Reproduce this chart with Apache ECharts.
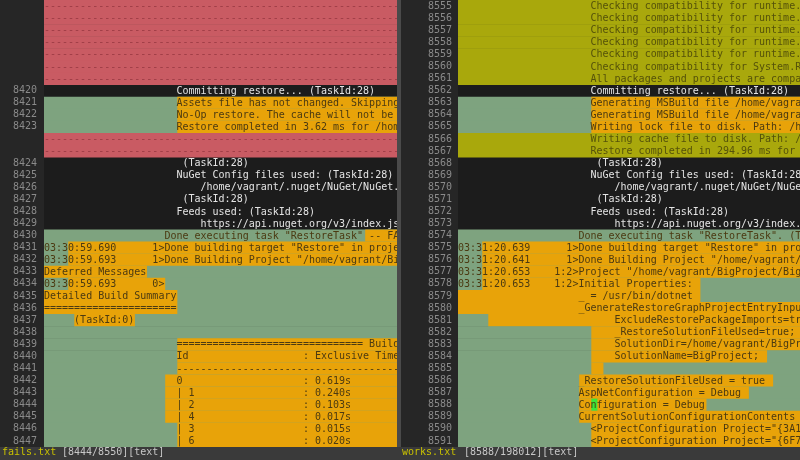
<!DOCTYPE html>
<html>
<head>
<meta charset="utf-8">
<script src="https://cdn.jsdelivr.net/npm/echarts@6/dist/echarts.min.js"></script>
<style>
  html, body { margin: 0; padding: 0; background: #1c1c1c; }
  #chart { width: 800px; height: 460px; }
</style>
</head>
<body>
<div id="chart"></div>
<script>
function sp(n, s) { return " ".repeat(n) + (s || ""); }

// left pane: fails.txt
const numsL = ["", "", "", "", "", "", "", "8420", "8421", "8422", "8423", "", "", "8424", "8425", "8426", "8427", "8428", "8429", "8430",
  "8431", "8432", "8433", "8434", "8435", "8436", "8437", "8438", "8439", "8440", "8441", "8442", "8443", "8444", "8445", "8446", "8447"];
const kindsL = ["d", "d", "d", "d", "d", "d", "d", "n", "c", "c", "c", "d", "d", "n", "n", "n", "n", "n", "n", "c",
  "c", "c", "c", "c", "c", "c", "c", "c", "c", "c", "c", "c", "c", "c", "c", "c", "c"];
const textsL = ["", "", "", "", "", "", "",
  sp(22, "Committing restore... (TaskId:28)"),
  sp(22, "Assets file has not changed. Skipping assets file writing."),
  sp(22, "No-Op restore. The cache will not be updated. Path: /home"),
  sp(22, "Restore completed in 3.62 ms for /home/vagrant/BigProject"),
  "", "",
  sp(23, "(TaskId:28)"),
  sp(22, "NuGet Config files used: (TaskId:28)"),
  sp(26, "/home/vagrant/.nuget/NuGet/NuGet.Config"),
  sp(23, "(TaskId:28)"),
  sp(22, "Feeds used: (TaskId:28)"),
  sp(26, "https://api.nuget.org/v3/index.json"),
  sp(20, 'Done executing task "RestoreTask" -- FAILED. (TaskId:28)'),
  '03:30:59.690      1>Done building target "Restore" in project "BigProject.csproj"',
  '03:30:59.693      1>Done Building Project "/home/vagrant/BigProject.csproj"',
  "Deferred Messages",
  "03:30:59.693      0>",
  "Detailed Build Summary",
  "======================",
  sp(5, "(TaskId:0)"),
  "",
  sp(22, "=============================== Build Hierarchy"),
  sp(22, "Id" + sp(19, ": Exclusive Time")),
  sp(22, "-".repeat(40)),
  sp(22, "0" + sp(20, ": 0.619s")),
  sp(22, "| 1" + sp(18, ": 0.240s")),
  sp(22, "| 2" + sp(18, ": 0.103s")),
  sp(22, "| 4" + sp(18, ": 0.017s")),
  sp(22, "| 3" + sp(18, ": 0.015s")),
  sp(22, "| 6" + sp(18, ": 0.020s"))];
// [row, startCol, endCol, kind]
const spansL = [[8, 22, 99, "o"], [9, 22, 99, "o"], [10, 22, 99, "o"], [19, 53, 99, "o"],
  [20, 4, 99, "o"], [21, 4, 99, "o"], [22, 0, 17, "o"], [23, 4, 20, "o"], [24, 0, 22, "o"], [25, 0, 22, "o"],
  [26, 5, 15, "o"], [28, 22, 99, "o"], [29, 22, 99, "o"], [30, 22, 99, "o"], [31, 20, 99, "o"], [32, 20, 99, "o"],
  [33, 20, 99, "o"], [34, 20, 99, "o"], [35, 22, 99, "o"], [36, 22, 99, "o"]];

// right pane: works.txt
const numsR = [];
for (let n = 8555; n <= 8591; n++) numsR.push(String(n));
const kindsR = ["a", "a", "a", "a", "a", "a", "a", "n", "c", "c", "c", "a", "a", "n", "n", "n", "n", "n", "n", "c",
  "c", "c", "c", "c", "c", "c", "c", "c", "c", "c", "c", "c", "c", "c", "c", "c", "c"];
const textsR = [
  sp(22, "Checking compatibility for runtime.osx-x64.Microsoft"),
  sp(22, "Checking compatibility for runtime.linux-x64.Microsoft"),
  sp(22, "Checking compatibility for runtime.win-x64.Microsoft"),
  sp(22, "Checking compatibility for runtime.win-x86.Microsoft"),
  sp(22, "Checking compatibility for runtime.rhel-x64.Microsoft"),
  sp(22, "Checking compatibility for System.Runtime"),
  sp(22, "All packages and projects are compatible with netcoreapp2.0"),
  sp(22, "Committing restore... (TaskId:28)"),
  sp(22, "Generating MSBuild file /home/vagrant/BigProject/obj"),
  sp(22, "Generating MSBuild file /home/vagrant/BigProject/obj"),
  sp(22, "Writing lock file to disk. Path: /home/vagrant"),
  sp(22, "Writing cache file to disk. Path: /home/vagrant"),
  sp(22, "Restore completed in 294.96 ms for /home/vagrant"),
  sp(23, "(TaskId:28)"),
  sp(22, "NuGet Config files used: (TaskId:28)"),
  sp(26, "/home/vagrant/.nuget/NuGet/NuGet.Config"),
  sp(23, "(TaskId:28)"),
  sp(22, "Feeds used: (TaskId:28)"),
  sp(26, "https://api.nuget.org/v3/index.json"),
  sp(20, 'Done executing task "RestoreTask". (TaskId:28)'),
  '03:31:20.639      1>Done building target "Restore" in project',
  '03:31:20.641      1>Done Building Project "/home/vagrant/BigProject"',
  '03:31:20.653    1:2>Project "/home/vagrant/BigProject/BigProject.csproj"',
  "03:31:20.653    1:2>Initial Properties:",
  sp(20, "_ = /usr/bin/dotnet"),
  sp(20, "_GenerateRestoreGraphProjectEntryInputProperties="),
  sp(26, "ExcludeRestorePackageImports=true;"),
  sp(26, "_RestoreSolutionFileUsed=true;"),
  sp(26, "SolutionDir=/home/vagrant/BigProject/;"),
  sp(26, "SolutionName=BigProject;"),
  "",
  sp(20, "_RestoreSolutionFileUsed = true"),
  sp(20, "AspNetConfiguration = Debug"),
  sp(20, "Configuration = Debug"),
  sp(20, "CurrentSolutionConfigurationContents = <SolutionConfiguration>"),
  sp(22, '<ProjectConfiguration Project="{3A1B2C3D}"'),
  sp(22, '<ProjectConfiguration Project="{6F7E8D9C}"')];
const spansR = [[8, 22, 99, "o"], [9, 22, 99, "o"], [10, 22, 99, "o"],
  [20, 4, 99, "o"], [21, 4, 99, "o"], [22, 4, 99, "o"], [23, 4, 40, "o"], [24, 0, 40, "o"], [25, 0, 99, "o"],
  [26, 5, 99, "o"], [27, 22, 99, "o"], [28, 22, 99, "o"], [29, 22, 51, "o"], [30, 22, 24, "o"],
  [31, 20, 52, "o"], [32, 20, 48, "o"], [33, 20, 41, "o"], [33, 22, 23, "k"], [34, 20, 99, "o"],
  [35, 22, 99, "o"], [36, 22, 99, "o"]];

const bg = { d: "#c95b63", c: "#7ea37f", a: "#a9a80c", n: null, o: "#e8a309", k: "#39e639" };
const fg = { d: "#9b3b44", c: "#4b3a12", a: "#55520a", n: "#e4e4e4" };
const FONT = '10px "DejaVu Sans Mono"';
const CHAR = 6.06;

function makeRender(kinds, texts, spans, cols) {
  return function (params, api) {
    const row = api.value(0);
    const p = api.coord([0, row]);
    const h = api.size([1, 1])[1];
    const y = p[1] - h / 2;
    const kids = [];
    const k = kinds[row];
    if (bg[k]) {
      kids.push({ type: "rect", shape: { x: p[0], y: y, width: cols * CHAR, height: h + 0.5 }, style: { fill: bg[k] } });
    }
    spans.filter(s => s[0] === row).forEach(s => {
      const e = Math.min(s[2], cols);
      kids.push({ type: "rect", shape: { x: p[0] + s[1] * CHAR, y: y, width: (e - s[1]) * CHAR, height: h + 0.5 }, style: { fill: bg[s[3]] } });
    });
    const txt = k === "d" ? "-".repeat(70) : texts[row];
    kids.push({ type: "text", style: { text: txt, x: p[0], y: p[1] + 0.5, font: FONT, fill: fg[k], verticalAlign: "middle" } });
    return { type: "group", children: kids };
  };
}

const chart = echarts.init(document.getElementById("chart"));
const rowsIdx = numsL.map((_, i) => String(i));
const colsL = 353 / CHAR, colsR = 342 / CHAR;

function yAxisFor(gi, nums, margin) {
  return {
    gridIndex: gi, type: "category", data: rowsIdx, inverse: true,
    axisLine: { show: false }, axisTick: { show: false }, splitLine: { show: false },
    axisLabel: { interval: 0, formatter: (v, i) => nums[i], color: "#8a8a8a", fontFamily: "DejaVu Sans Mono", fontSize: 10, margin: margin }
  };
}

chart.setOption({
  backgroundColor: "#1c1c1c",
  animation: false,
  graphic: [
    { type: "rect", shape: { x: 0, y: 0, width: 44, height: 447 }, style: { fill: "#262626" }, z: -10 },
    { type: "rect", shape: { x: 401, y: 0, width: 57, height: 447 }, style: { fill: "#262626" }, z: -10 },
    { type: "rect", shape: { x: 397, y: 0, width: 4, height: 447 }, style: { fill: "#4a4a4a" }, z: -10 },
    { type: "rect", shape: { x: 0, y: 447, width: 800, height: 13 }, style: { fill: "#3a3a3a" } },
    { type: "text", x: 2, y: 447, style: { text: "fails.txt", font: FONT, fill: "#c8c000" } },
    { type: "text", x: 62, y: 447, style: { text: "[8444/8550][text]", font: FONT, fill: "#c8c8c8" } },
    { type: "text", x: 402, y: 447, style: { text: "works.txt", font: FONT, fill: "#c8c000" } },
    { type: "text", x: 464, y: 447, style: { text: "[8588/198012][text]", font: FONT, fill: "#c8c8c8" } }
  ],
  grid: [
    { left: 44, top: 0, width: 353, height: 447 },
    { left: 458, top: 0, width: 342, height: 447 }
  ],
  xAxis: [
    { gridIndex: 0, type: "value", min: 0, max: colsL, show: false },
    { gridIndex: 1, type: "value", min: 0, max: colsR, show: false }
  ],
  yAxis: [yAxisFor(0, numsL, 7), yAxisFor(1, numsR, 6)],
  series: [
    { type: "custom", xAxisIndex: 0, yAxisIndex: 0, clip: true, data: rowsIdx.map(i => [+i]),
      renderItem: makeRender(kindsL, textsL, spansL, colsL) },
    { type: "custom", xAxisIndex: 1, yAxisIndex: 1, clip: true, data: rowsIdx.map(i => [+i]),
      renderItem: makeRender(kindsR, textsR, spansR, colsR) }
  ]
});
</script>
</body>
</html>
